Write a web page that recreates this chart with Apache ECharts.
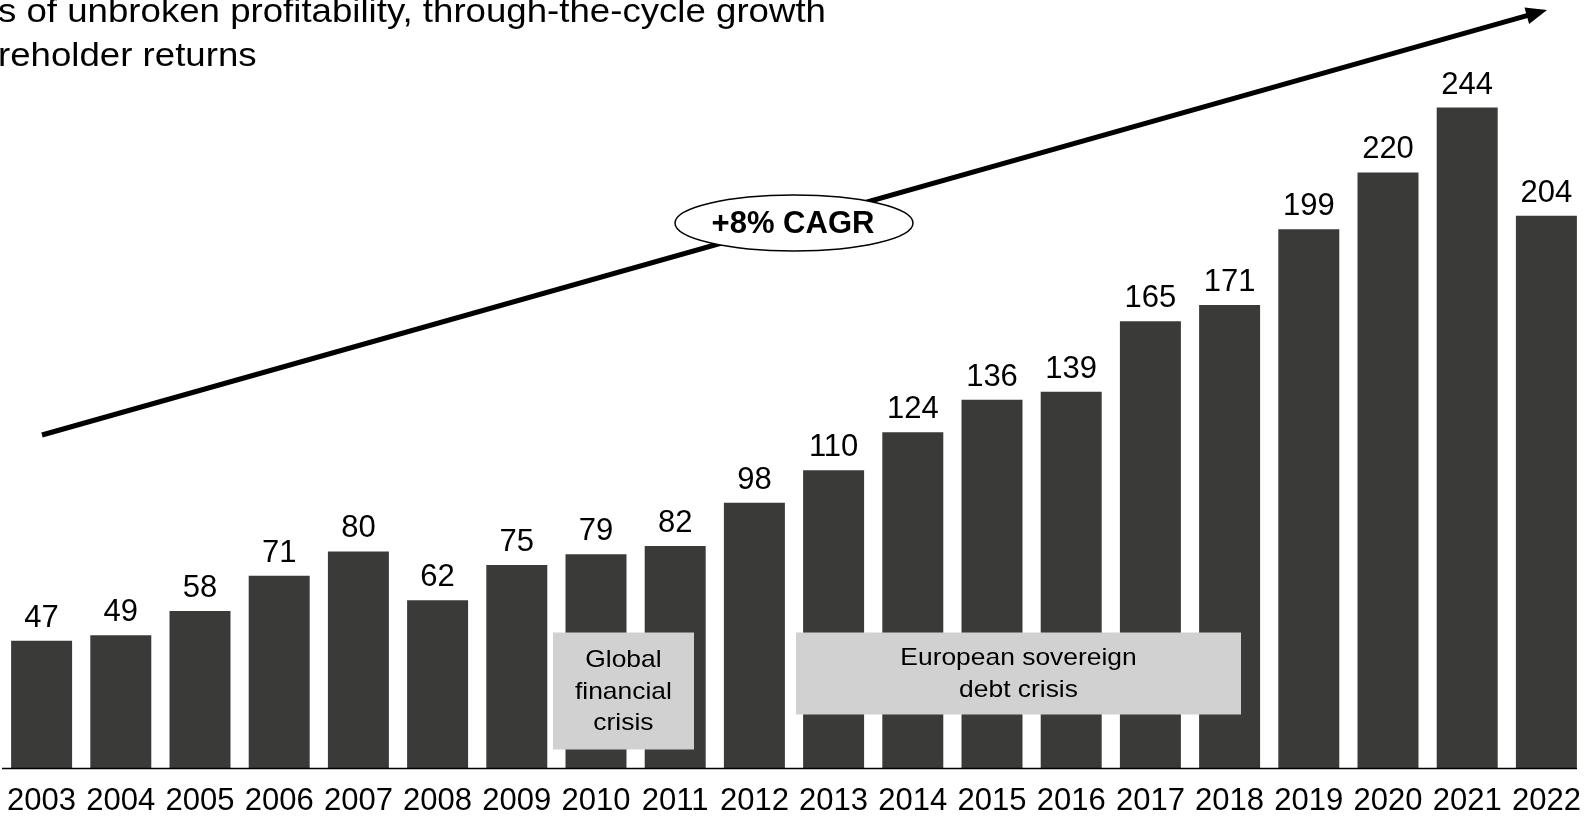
<!DOCTYPE html>
<html><head><meta charset="utf-8">
<script src="https://cdn.jsdelivr.net/npm/echarts@6/dist/echarts.min.js"></script>
<style>html,body{margin:0;padding:0;background:#fff}#c{width:1588px;height:818px}</style>
</head><body><div id="c"></div>
<script>
const years = ['2003','2004','2005','2006','2007','2008','2009','2010','2011','2012','2013','2014','2015','2016','2017','2018','2019','2020','2021','2022'];
const values = [47,49,58,71,80,62,75,79,82,98,110,124,136,139,165,171,199,220,244,204];
const titleLines = ['s of unbroken profitability, through-the-cycle growth', 'reholder returns'];
const cagrLabel = '+8% CAGR';
const crisisNotes = ['Global\nfinancial\ncrisis', 'European sovereign\ndebt crisis'];

const FONT = "'Liberation Sans', Arial, Helvetica, sans-serif";
const chart = echarts.init(document.getElementById('c'), null, {renderer: 'canvas'});

// arrow geometry (annotation)
const ax0 = 42, ay0 = 435, ax1 = 1547, ay1 = 10;
const len = Math.hypot(ax1 - ax0, ay1 - ay0);
const ux = (ax1 - ax0) / len, uy = (ay1 - ay0) / len;
const nx = -uy, ny = ux;
const headL = 21, headW = 8.5;
const bx = ax1 - headL * ux, by = ay1 - headL * uy;

chart.setOption({
  animation: false,
  backgroundColor: '#fff',
  grid: {left: 2, right: 2, top: 10, bottom: 50, containLabel: false},
  xAxis: {
    type: 'category',
    data: years,
    axisLine: {show: false},
    axisTick: {show: false},
    axisLabel: {interval: 0, color: '#000', fontSize: 31, fontFamily: FONT, margin: 18}
  },
  yAxis: {type: 'value', min: 0, max: 280, show: false, splitLine: {show: false}},
  series: [{
    type: 'bar',
    data: values,
    barCategoryGap: '23%',
    itemStyle: {color: '#3a3b38'},
    label: {show: true, position: 'top', distance: 7, color: '#000', fontSize: 31, fontFamily: FONT}
  }],
  graphic: [
    {type: 'line', z: 100, shape: {x1: 2, y1: 768.5, x2: 1577, y2: 768.5}, style: {stroke: '#000', lineWidth: 1.5}},
    {type: 'text', z: 100, x: -2, y: 0, scaleX: 1.11,
      style: {text: titleLines[0], x: 0, y: 13, font: '33px ' + FONT, fill: '#000', verticalAlign: 'middle', align: 'left'}},
    {type: 'text', z: 100, x: -2, y: 0, scaleX: 1.11,
      style: {text: titleLines[1], x: 0, y: 57, font: '33px ' + FONT, fill: '#000', verticalAlign: 'middle', align: 'left'}},
    {type: 'line', z: 100, shape: {x1: ax0, y1: ay0, x2: bx + 2 * ux, y2: by + 2 * uy}, style: {stroke: '#000', lineWidth: 5}},
    {type: 'polygon', z: 100, shape: {points: [[ax1, ay1], [bx + headW * nx, by + headW * ny], [bx - headW * nx, by - headW * ny]]}, style: {fill: '#000'}},
    {type: 'ellipse', z: 101, shape: {cx: 794, cy: 223, rx: 119, ry: 28}, style: {fill: '#fff', stroke: '#000', lineWidth: 1.5}},
    {type: 'text', z: 102, style: {text: cagrLabel, x: 793, y: 224, font: 'bold 31px ' + FONT, fill: '#000', align: 'center', verticalAlign: 'middle'}},
    {type: 'rect', z: 100, shape: {x: 553, y: 632.5, width: 141, height: 117}, style: {fill: '#d0d1d0'}},
    {type: 'text', z: 101, x: 623.4, y: 692, scaleX: 1.1,
      style: {text: crisisNotes[0], x: 0, y: 0, font: '24px ' + FONT, lineHeight: 31.5, fill: '#000', align: 'center', verticalAlign: 'middle'}},
    {type: 'rect', z: 100, shape: {x: 796, y: 632.5, width: 445, height: 82}, style: {fill: '#d0d1d0'}},
    {type: 'text', z: 101, x: 1018.5, y: 674.5, scaleX: 1.1,
      style: {text: crisisNotes[1], x: 0, y: 0, font: '24px ' + FONT, lineHeight: 32, fill: '#000', align: 'center', verticalAlign: 'middle'}}
  ]
});
</script></body></html>
